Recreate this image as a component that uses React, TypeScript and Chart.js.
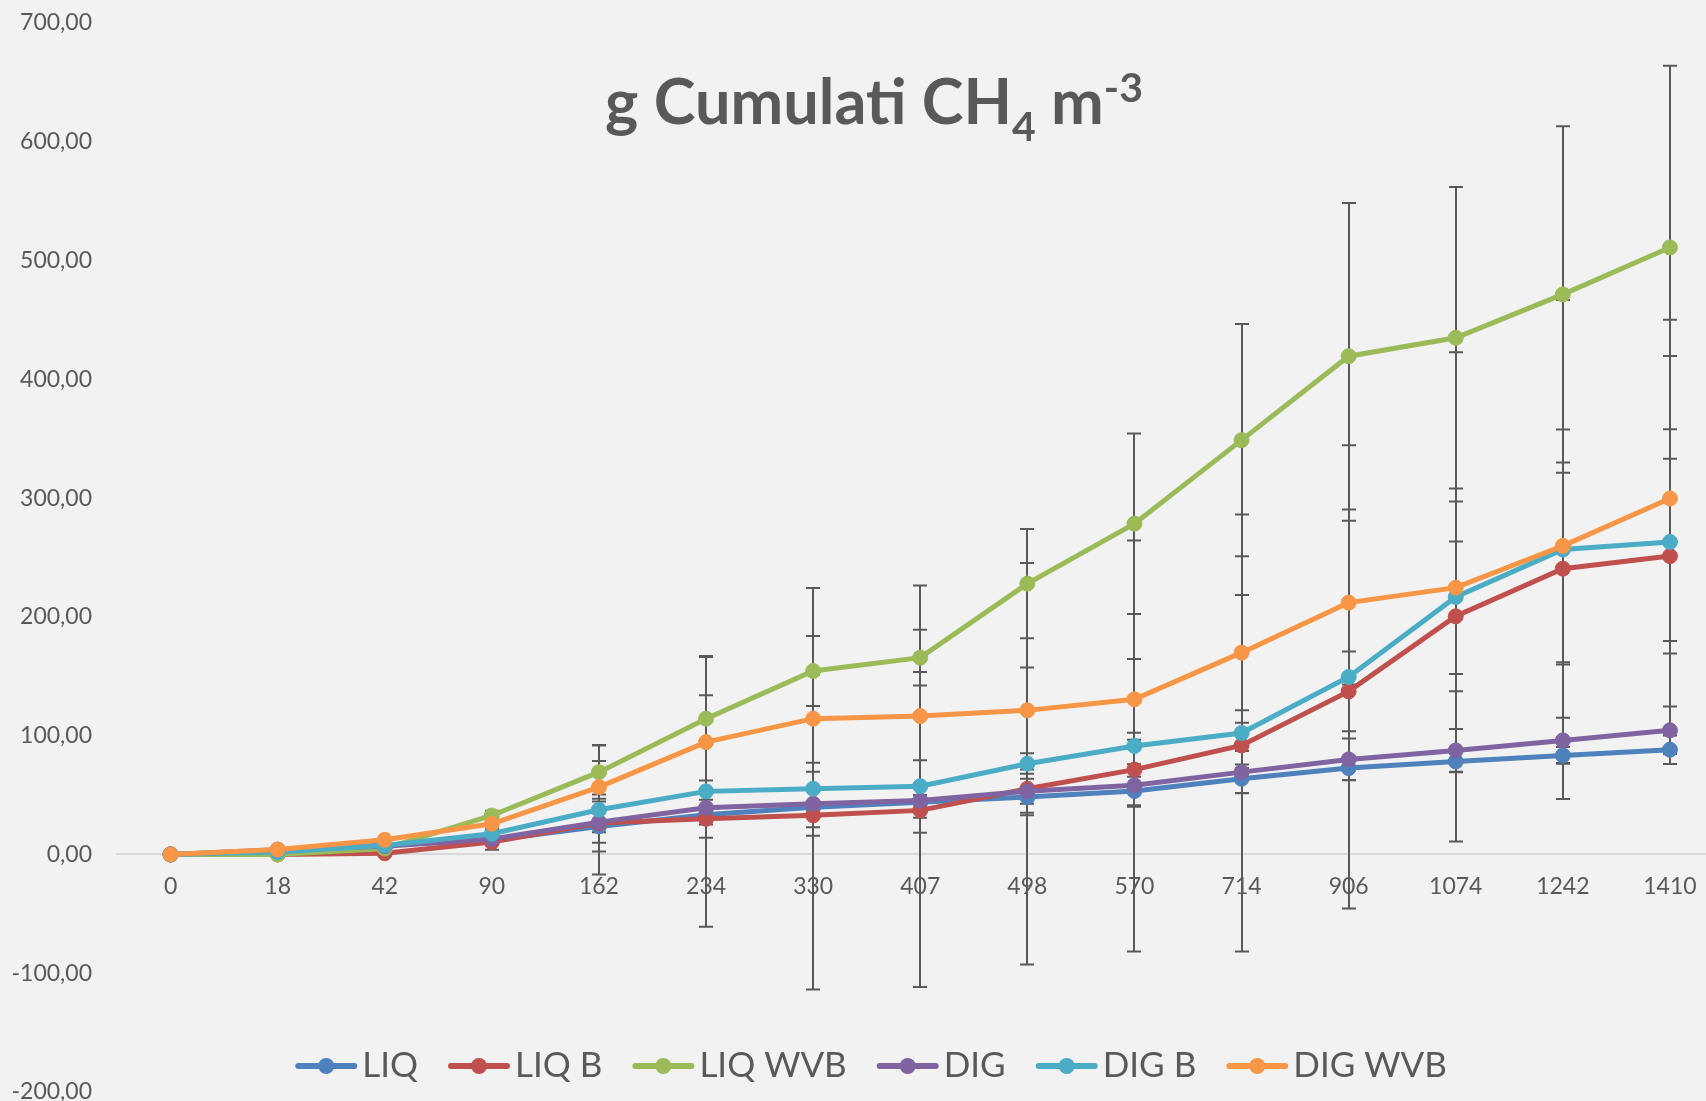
import React, { useEffect, useRef } from "react";
import { Chart, registerables } from "chart.js";

Chart.register(...registerables);

// Sampling days (x categories)
const days = ["0", "18", "42", "90", "162", "234", "330", "407", "498", "570", "714", "906", "1074", "1242", "1410"];

// Cumulative CH4 (g m-3) per treatment
const liq = [0, 3, 8, 12, 23.6, 33.4, 39.8, 44, 48.3, 53.4, 63.7, 72.7, 78.3, 83.4, 88.2];
const liqB = [0, 0, 1, 10.4, 26.4, 30, 32.9, 37.1, 55.3, 71.4, 91.8, 137.3, 200.5, 240.6, 251.2];
const liqWvb = [0, 0, 5, 32.8, 69.3, 114.3, 154.4, 165.7, 228, 278.5, 348.8, 419.5, 435, 471.5, 511];
const dig = [0, 4, 7, 13, 27.2, 39.3, 42.7, 45.5, 53.3, 58.2, 69.3, 80, 87.6, 96, 104.5];
const digB = [0, 2, 7.6, 17.4, 37.6, 53.1, 55.3, 57.5, 76.4, 91.3, 102.2, 149.4, 216.8, 256.7, 263.1];
const digWvb = [0, 4.2, 12.3, 25.8, 56.7, 94.6, 114.3, 116.5, 121.3, 130.6, 169.9, 212, 224.6, 259.8, 299.7];

// Standard deviations (symmetric error bars)
const liqErr = [0, 1, 2, 3, 5, 6, 5, 6, 15.4, 12, 12, 10, 9, 7, 12];
const liqBErr = [0, 1, 1, 6.4, 24, 16, 10, 18.8, 12.7, 31, 19, 33.5, 63, 80.7, 82];
const liqWvbErr = [0, 1, 2, 4, 22.5, 52, 29.5, 23.5, 46, 76, 97.7, 129, 127, 141.5, 153];
const digErr = [0, 1, 2, 3, 17.4, 14, 27, 14.6, 18.2, 17.8, 17.7, 17.6, 18, 19, 20];
const digBErr = [0, 1, 2, 4, 54.5, 114, 169, 169, 169, 173, 184, 195, 206, 210, 187];
const digWvbErr = [0, 1, 2, 4, 22, 39.5, 37, 37.2, 36, 34, 48.6, 69, 72.6, 98, 120];

const seriesNames = ["LIQ", "LIQ B", "LIQ WVB", "DIG", "DIG B", "DIG WVB"];
const seriesValues = [liq, liqB, liqWvb, dig, digB, digWvb];
const seriesErrors = [liqErr, liqBErr, liqWvbErr, digErr, digBErr, digWvbErr];
const seriesColors = ["#4F81BD", "#C0504D", "#9BBB59", "#8064A2", "#4BACC6", "#F79646"];

const yMin = -200;
const yMax = 700;
const yStep = 100;

const TEXT = "#595959";
const FONT = "Lato, 'Open Sans', sans-serif";

const W = 1760;
const H = 1130;

const fmt = (v: number) => v.toFixed(2).replace(".", ",");

const errorBarPlugin = {
  id: "errorBars",
  beforeDatasetsDraw(chart: any) {
    const { ctx } = chart;
    const xs = chart.scales.x;
    const ys = chart.scales.y;
    ctx.save();
    ctx.strokeStyle = TEXT;
    ctx.lineWidth = 2;
    seriesErrors.forEach((errs, i) => {
      const vals = seriesValues[i];
      errs.forEach((e, j) => {
        if (!e) return;
        const px = Math.round(xs.getPixelForValue(j));
        const top = ys.getPixelForValue(vals[j] + e);
        const bot = ys.getPixelForValue(vals[j] - e);
        ctx.beginPath();
        ctx.moveTo(px, top);
        ctx.lineTo(px, bot);
        ctx.moveTo(px - 7, top);
        ctx.lineTo(px + 7, top);
        ctx.moveTo(px - 7, bot);
        ctx.lineTo(px + 7, bot);
        ctx.stroke();
      });
    });
    ctx.restore();
  },
};

const titlePlugin = {
  id: "richTitle",
  afterDraw(chart: any) {
    const { ctx } = chart;
    const parts = [
      { t: "g Cumulati CH", size: 63, dy: 0 },
      { t: "4", size: 41, dy: 17 },
      { t: " m", size: 63, dy: 0 },
      { t: "-3", size: 41, dy: -22 },
    ];
    ctx.save();
    ctx.fillStyle = TEXT;
    ctx.textBaseline = "alphabetic";
    ctx.textAlign = "left";
    let total = 0;
    const widths = parts.map((p) => {
      ctx.font = `bold ${p.size}px ${FONT}`;
      const w = ctx.measureText(p.t).width;
      total += w;
      return w;
    });
    let x = 874 - total / 2;
    const base = 124;
    parts.forEach((p, i) => {
      ctx.font = `bold ${p.size}px ${FONT}`;
      ctx.fillText(p.t, x, base + p.dy);
      x += widths[i];
    });
    ctx.restore();
  },
};

const legendPlugin = {
  id: "bottomLegend",
  afterDraw(chart: any) {
    const { ctx } = chart;
    const lineLen = 62;
    const gapText = 5;
    const gapItem = 30;
    const cy = 1066;
    ctx.save();
    ctx.font = `35px ${FONT}`;
    const tw = seriesNames.map((n) => ctx.measureText(n).width);
    const total = tw.reduce((a, w) => a + lineLen + gapText + w, 0) + gapItem * (seriesNames.length - 1);
    let x = 871 - total / 2;
    seriesNames.forEach((name, i) => {
      ctx.strokeStyle = seriesColors[i];
      ctx.lineWidth = 6;
      ctx.lineCap = "round";
      ctx.beginPath();
      ctx.moveTo(x + 3, cy);
      ctx.lineTo(x + lineLen - 3, cy);
      ctx.stroke();
      ctx.fillStyle = seriesColors[i];
      ctx.beginPath();
      ctx.arc(x + lineLen / 2, cy, 8, 0, Math.PI * 2);
      ctx.fill();
      ctx.fillStyle = TEXT;
      ctx.textBaseline = "alphabetic";
      ctx.fillText(name, x + lineLen + gapText, 1077);
      x += lineLen + gapText + tw[i] + gapItem;
    });
    ctx.restore();
  },
};

export default function App() {
  const ref = useRef<HTMLCanvasElement | null>(null);

  useEffect(() => {
    if (!ref.current) return;
    const chart = new Chart(ref.current, {
      type: "line",
      data: {
        labels: days,
        datasets: seriesNames.map((name, i) => ({
          label: name,
          data: seriesValues[i],
          borderColor: seriesColors[i],
          backgroundColor: seriesColors[i],
          pointBackgroundColor: seriesColors[i],
          pointBorderColor: seriesColors[i],
          pointBorderWidth: 1,
          pointRadius: 7.5,
          borderWidth: 5,
          tension: 0,
          fill: false,
          order: seriesNames.length - i,
        })),
      },
      options: {
        responsive: false,
        maintainAspectRatio: false,
        animation: false,
        layout: { padding: { top: 23, right: W - 1723.5, bottom: H - 1092, left: 0 } },
        plugins: {
          legend: { display: false },
          title: { display: false },
          tooltip: { enabled: false },
        },
        scales: {
          x: {
            type: "category",
            position: { y: 0 } as any,
            offset: true,
            grid: { display: false, drawTicks: false },
            border: { display: true, color: "#D9D9D9", width: 2 },
            ticks: {
              color: TEXT,
              font: { family: FONT, size: 23 },
              padding: 18,
              maxRotation: 0,
              autoSkip: false,
            },
          },
          y: {
            min: yMin,
            max: yMax,
            grid: { display: false, drawTicks: false },
            border: { display: false },
            ticks: {
              stepSize: yStep,
              color: TEXT,
              font: { family: FONT, size: 23 },
              padding: 25,
              callback: (v: any) => fmt(Number(v)),
            },
            afterFit: (s: any) => {
              s.width = 117;
              s.paddingTop = 0;
              s.paddingBottom = 0;
            },
          },
        },
      },
      plugins: [errorBarPlugin, titlePlugin, legendPlugin],
    });
    return () => chart.destroy();
  }, []);

  return (
    <div
      style={{
        position: "fixed",
        left: 0,
        top: 0,
        width: 1706,
        height: 1101,
        overflow: "hidden",
        background: "#F2F2F2",
      }}
    >
      <canvas ref={ref} width={W} height={H} style={{ display: "block" }} />
    </div>
  );
}
